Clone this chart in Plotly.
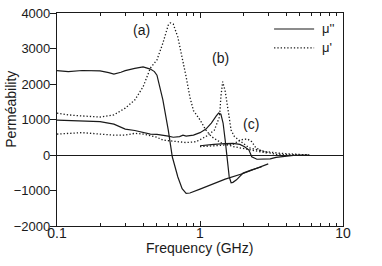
import math
import plotly.graph_objects as go

# (a) sample
a_f_mu2 = [0.1, 0.12, 0.15, 0.2, 0.23, 0.25, 0.28, 0.3, 0.35, 0.4, 0.45, 0.48, 0.5, 0.55, 0.6, 0.64, 0.7, 0.75, 0.8, 0.85, 1.0, 1.2, 1.5, 2.0, 2.5, 3.0]
a_mu2 = [2375, 2350, 2380, 2370, 2320, 2280, 2330, 2375, 2440, 2480, 2420, 2350, 2250, 1550, 700, -50, -620, -950, -1080, -1070, -960, -830, -680, -520, -380, -250]
a_f_mu1 = [0.1, 0.12, 0.15, 0.2, 0.25, 0.3, 0.35, 0.4, 0.45, 0.5, 0.55, 0.6, 0.62, 0.65, 0.7, 0.75, 0.8, 0.85, 0.9, 1.0, 1.1, 1.2, 1.4, 1.7, 2.0, 2.5, 3.0]
a_mu1 = [1180, 1130, 1100, 1070, 1130, 1320, 1550, 1920, 2450, 2680, 3150, 3660, 3720, 3690, 3320, 2760, 2200, 1630, 1250, 990, 700, 520, 350, 240, 180, 100, 50]

# (b) sample
b_f_mu2 = [0.1, 0.15, 0.2, 0.25, 0.3, 0.35, 0.4, 0.45, 0.5, 0.55, 0.6, 0.65, 0.7, 0.72, 0.76, 0.8, 0.9, 1.0, 1.1, 1.2, 1.3, 1.35, 1.4, 1.45, 1.5, 1.55, 1.6, 1.65, 1.7, 1.8, 2.0, 2.3, 2.7]
b_mu2 = [985, 960, 940, 870, 730, 690, 630, 590, 580, 560, 530, 500, 500, 520, 560, 530, 560, 630, 730, 900, 1100, 1180, 1150, 900, 420, -140, -610, -780, -770, -700, -510, -420, -330]
b_f_mu1 = [0.1, 0.15, 0.2, 0.25, 0.3, 0.35, 0.4, 0.45, 0.5, 0.55, 0.65, 0.75, 0.8, 0.94, 1.1, 1.26, 1.37, 1.4, 1.44, 1.5, 1.56, 1.65, 1.74, 1.99, 2.21, 2.89, 3.58, 5.8]
b_mu1 = [590, 630, 590, 560, 560, 610, 590, 535, 500, 420, 395, 375, 350, 375, 520, 700, 1080, 1640, 2065, 1800, 1300, 700, 520, 330, 200, 95, 50, 0]

# (c) sample
c_f_mu2 = [1.0, 1.1, 1.25, 1.5, 1.7, 1.9, 2.05, 2.2, 2.3, 2.5, 2.8, 3.1, 3.4, 3.9, 4.5, 5.8]
c_mu2 = [260, 280, 300, 320, 330, 300, 235, 140, -50, -120, -120, -110, -65, -30, -10, 0]
c_f_mu1 = [1.0, 1.2, 1.5, 1.7, 1.85, 2.0, 2.15, 2.3, 2.45, 2.7, 3.0, 3.4, 4.0, 5.0, 5.8]
c_mu1 = [235, 250, 280, 300, 390, 440, 450, 375, 210, 110, 60, 20, 10, 10, 0]

label_text = ["(a)", "(b)", "(c)"]
label_f = [0.39, 1.39, 2.28]
label_y = [3520, 2730, 870]

legend_names = ["μ''", "μ'"]
x_title = "Frequency (GHz)"
y_title = "Perméability"

ink = "#1a1a1a"
fig = go.Figure()
solid = dict(color=ink, width=1.2)
dot = dict(color=ink, width=1.3, dash="1.3px,2px")
fig.add_trace(go.Scatter(x=a_f_mu2, y=a_mu2, mode="lines", line=solid, showlegend=False))
fig.add_trace(go.Scatter(x=a_f_mu1, y=a_mu1, mode="lines", line=dot, showlegend=False))
fig.add_trace(go.Scatter(x=b_f_mu2, y=b_mu2, mode="lines", line=solid, showlegend=False))
fig.add_trace(go.Scatter(x=b_f_mu1, y=b_mu1, mode="lines", line=dot, showlegend=False))
fig.add_trace(go.Scatter(x=c_f_mu2, y=c_mu2, mode="lines", line=solid, showlegend=False))
fig.add_trace(go.Scatter(x=c_f_mu1, y=c_mu1, mode="lines", line=dot, showlegend=False))

for txt, fx, fy in zip(label_text, label_f, label_y):
    fig.add_annotation(x=math.log10(fx), y=fy, xref="x", yref="y", text=txt, showarrow=False,
                       font=dict(size=14, color=ink))

# manual legend (paper coordinates)
for name, yy, ln in zip(legend_names, [0.925, 0.836], [solid, dot]):
    fig.add_shape(type="line", xref="paper", yref="paper", x0=0.759, x1=0.899, y0=yy, y1=yy,
                  line=ln)
    fig.add_annotation(x=0.92, y=yy, xref="paper", yref="paper", text=name, showarrow=False,
                       xanchor="left", yanchor="middle", font=dict(size=13, color=ink))

# axis titles as annotations
fig.add_annotation(x=0.497, y=-0.104, xref="paper", yref="paper", text=x_title, showarrow=False,
                   xanchor="center", yanchor="middle", font=dict(size=14, color=ink))
fig.add_annotation(x=-0.162, y=0.549, xref="paper", yref="paper", text=y_title, showarrow=False,
                   textangle=-90, xanchor="center", yanchor="middle", font=dict(size=14, color=ink))

fig.update_layout(
    width=382, height=266,
    margin=dict(l=57, r=39, t=13, b=40),
    paper_bgcolor="white", plot_bgcolor="white",
    font=dict(family="Liberation Sans, Arial, sans-serif", size=14, color=ink),
    showlegend=False,
)
fig.update_xaxes(type="log", range=[-1, 1], showline=True, linecolor=ink, linewidth=1.2,
                 mirror="ticks", ticks="inside", ticklen=5, tickcolor=ink,
                 tickvals=[0.1, 1, 10], ticktext=["0.1", "1", "10"], tickfont=dict(size=14),
                 minor=dict(ticks="inside", ticklen=3, tickcolor=ink,
                            tickvals=[0.2, 0.3, 0.4, 0.5, 0.6, 0.7, 0.8, 0.9, 2, 3, 4, 5, 6, 7, 8, 9]),
                 showgrid=False, automargin=False, ticklabeloverflow="allow", ticklabelstandoff=-6)
fig.update_yaxes(range=[-2000, 4000], dtick=1000, showline=True, linecolor=ink, linewidth=1.2,
                 mirror=True, ticks="outside", ticklen=6, tickcolor=ink, showgrid=False,
                 tickfont=dict(size=13),
                 zeroline=True, zerolinecolor=ink, zerolinewidth=1.2, automargin=False,
                 ticklabeloverflow="allow", ticklabelstandoff=-3)
# remove the default 8px page margin so the figure fills the window exactly
fig.write_html("out.html", config={"displayModeBar": False},
               post_script="document.body.style.margin='0px';")
